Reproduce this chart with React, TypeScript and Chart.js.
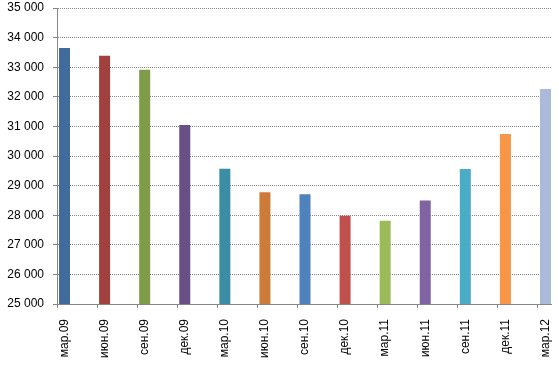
import React, { useEffect, useRef } from 'react';
import { Chart, registerables } from 'chart.js';

Chart.register(...registerables);

const categories = ['мар.09', 'июн.09', 'сен.09', 'дек.09', 'мар.10', 'июн.10', 'сен.10', 'дек.10', 'мар.11', 'июн.11', 'сен.11', 'дек.11', 'мар.12'];
const values = [33650, 33390, 32910, 31050, 29570, 28775, 28705, 27980, 27810, 28500, 29560, 30745, 32260];
const barColors = ['#426B9D', '#A0413F', '#7F9C49', '#684F86', '#3B8DA3', '#CD7B38', '#4F81BD', '#C0504D', '#9BBB59', '#8064A2', '#4BACC6', '#F79646', '#AABAD8'];
const yMin = 25000;
const yMax = 35000;
const yStep = 1000;

const FONT = { family: '"Liberation Sans", Arial, sans-serif', size: 12 };
const AXIS_GRAY = '#868686';

function fmt(v: number): string {
  const th = Math.floor(v / 1000);
  const rest = String(v % 1000).padStart(3, '0');
  return th + ' ' + rest;
}

export default function App() {
  const ref = useRef<HTMLCanvasElement | null>(null);
  useEffect(() => {
    if (!ref.current) return;
    const chart = new Chart(ref.current, {
      type: 'bar',
      data: {
        datasets: [
          {
            data: categories.map((_, i) => ({ x: i, y: null })),
            backgroundColor: 'rgba(0,0,0,0)',
          },
          {
            data: values.map((v, i) => ({ x: i, y: v })),
            backgroundColor: barColors,
            borderWidth: 0,
          },
        ],
      },
      options: {
        responsive: false,
        animation: false,
        devicePixelRatio: 1,
        categoryPercentage: 0.75,
        barPercentage: 0.732,
        layout: { padding: { top: 0, right: 8, left: 0, bottom: 0 } },
        plugins: { legend: { display: false }, tooltip: { enabled: false } },
        scales: {
          x: {
            type: 'linear',
            min: 0,
            max: 12.325,
            offset: false,
            afterBuildTicks: (s: any) => {
              s.ticks = categories.map((_, i) => ({ value: i }));
            },
            afterFit: (s: any) => {
              s.height = 63;
              s.paddingLeft = 0;
              s.paddingRight = 0;
            },
            ticks: {
              stepSize: 1,
              autoSkip: false,
              minRotation: 90,
              maxRotation: 90,
              labelOffset: 7.5,
              padding: 11,
              color: '#000',
              font: FONT,
              callback: (v: any) => categories[v as number] ?? '',
            },
            grid: {
              offset: false,
              drawOnChartArea: false,
              tickLength: 4,
              color: AXIS_GRAY,
              tickColor: AXIS_GRAY,
            },
            border: { color: AXIS_GRAY },
          },
          y: {
            min: yMin,
            max: yMax,
            afterFit: (s: any) => {
              s.width = 57;
              s.paddingTop = 8;
              s.paddingBottom = 0;
            },
            ticks: {
              stepSize: yStep,
              padding: 9,
              color: '#000',
              font: FONT,
              callback: (v: any) => fmt(Number(v)),
            },
            grid: {
              color: AXIS_GRAY,
              tickLength: 4,
              tickColor: AXIS_GRAY,
              tickBorderDash: [],
            },
            border: { color: AXIS_GRAY, dash: [1, 1] },
          },
        },
      } as any,
    });
    return () => chart.destroy();
  }, []);
  return (
    <div style={{ position: 'absolute', left: 0, top: 0, width: 559, height: 367, background: '#fff' }}>
      <canvas ref={ref} width={559} height={367} style={{ display: 'block' }} />
    </div>
  );
}
